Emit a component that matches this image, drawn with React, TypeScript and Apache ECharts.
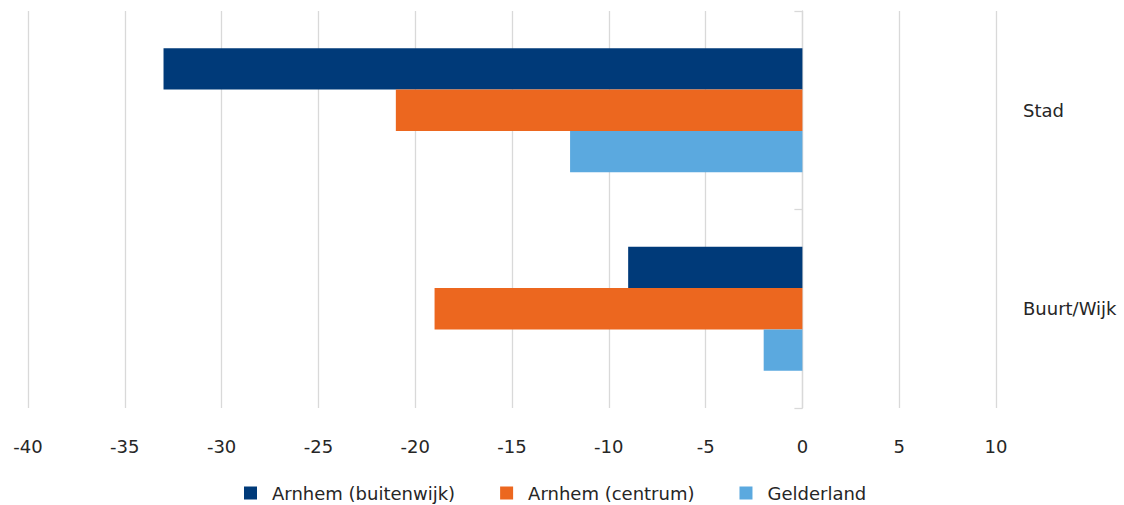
import React, { useEffect, useRef } from "react";
import * as echarts from "echarts";

const categories = ["Stad", "Buurt/Wijk"];
const seriesNames = ["Arnhem (buitenwijk)", "Arnhem (centrum)", "Gelderland"];
const buitenwijk = [-33, -9];
const centrum = [-21, -19];
const gelderland = [-12, -2];
const colors = ["#003A79", "#EC671F", "#5BA9DF"];

export default function App() {
  const ref = useRef<HTMLDivElement>(null);
  useEffect(() => {
    const chart = echarts.init(ref.current!, null, { renderer: "svg" });
    const font = "DejaVu Sans";
    const values = [buitenwijk, centrum, gelderland];
    chart.setOption({
      animation: false,
      color: colors,
      textStyle: { fontFamily: font },
      grid: { left: 28, right: 128, top: 11, bottom: 97, containLabel: false, outerBoundsMode: "none" },
      legend: {
        top: 479,
        left: 239,
        itemWidth: 13,
        itemHeight: 13,
        itemGap: 45,
        icon: "rect",
        textStyle: { fontSize: 18, color: "#262626", fontFamily: font, padding: [0, 0, 0, 10] },
        data: seriesNames,
      },
      xAxis: {
        type: "value",
        min: -40,
        max: 10,
        interval: 5,
        axisLine: { show: false },
        axisTick: { show: false },
        splitLine: { show: true, lineStyle: { color: "#D9D9D9", width: 1.3 } },
        axisLabel: { fontSize: 18, color: "#262626", margin: 29, fontFamily: font },
      },
      yAxis: {
        type: "category",
        data: categories,
        inverse: true,
        position: "right",
        axisLine: { show: true, onZero: true, lineStyle: { color: "#D9D9D9", width: 1.3 } },
        axisTick: { show: true, inside: true, length: 8, lineStyle: { color: "#D9D9D9", width: 1.3 } },
        axisLabel: { fontSize: 18, color: "#262626", margin: 27, align: "left", fontFamily: font },
      },
      series: seriesNames.map((name, i) => ({
        name,
        type: "bar",
        data: values[i],
        barGap: "0%",
        barCategoryGap: "37.5%",
        itemStyle: { color: colors[i] },
      })),
    });
    return () => chart.dispose();
  }, []);
  return <div ref={ref} style={{ width: 1124, height: 505, position: "absolute", left: 0, top: 0 }} />;
}
